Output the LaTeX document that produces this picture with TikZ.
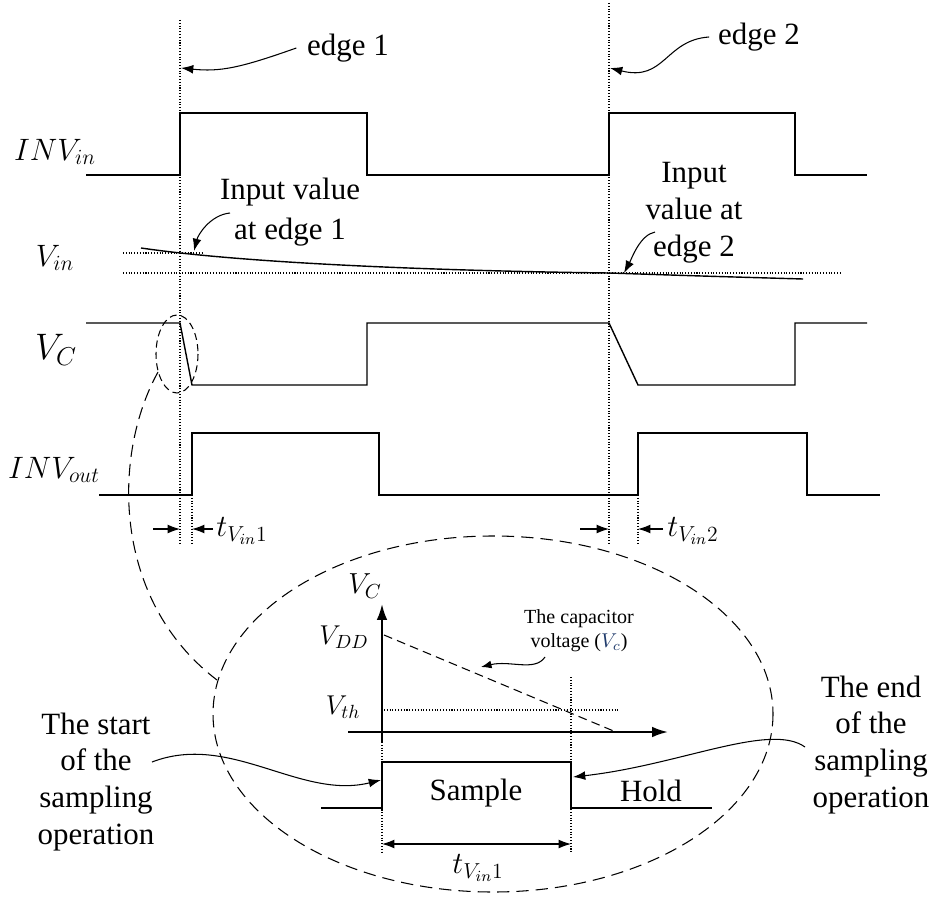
\documentclass[tikz,border=0pt]{standalone}
\usepackage[no-math]{fontspec}
\setmainfont{Liberation Serif}
\usepackage{fix-cm}
\usetikzlibrary{arrows.meta, positioning}
\definecolor{CapBlue}{HTML}{1F3A6B}
\newcommand{\bigtxt}{\fontsize{17.6}{22}\selectfont}
\newcommand{\midtxt}{\fontsize{15.5}{18}\selectfont}
\newcommand{\smalltxt}{\fontsize{11.4}{13.5}\selectfont}
\tikzset{
    sig/.style={line width=0.8pt, line join=miter},
    fatsig/.style={line width=1.4pt},
    marker/.style={densely dotted, line width=0.6pt},
    loop/.style={dashed, dash pattern=on 7pt off 4pt, line width=0.6pt},
    pointer/.style={-{Latex[length=7pt, width=5pt]}, line width=0.6pt},
    axis/.style={-{Latex[length=9pt, width=6pt]}, line width=1.2pt},
    lbl/.style={font=\bigtxt, align=center, inner sep=0pt},
    mlbl/.style={font=\bigtxt, inner sep=0pt},
}

\begin{document}
\begin{tikzpicture}[x=0.02cm, y=-0.02cm]
    \useasboundingbox (0,0) rectangle (932,898);

    % Signal names
    \node[mlbl] (nInvIn)  at (55,152) {$INV_{in}$};
    \node[mlbl] (nVin)    at (55,258) {$V_{in}$};
    \node[mlbl, font=\fontsize{21}{24}\selectfont] (nVc) at (56,350) {$V_C$};
    \node[mlbl] (nInvOut) at (54,470) {$INV_{out}$};

    % Edge markers
    \draw[marker] (180,20) -- (180,545);
    \draw[marker] (609,3) -- (609,545);
    \draw[marker] (192,495) -- (192,545);
    \draw[marker] (638,495) -- (638,545);

    % INV_in
    \draw[sig] (86,175) -- (180,175) -- (180,113) -- (367,113) -- (367,175)
        -- (609,175) -- (609,113) -- (795,113) -- (795,175) -- (867,175);

    % V_in, slowly falling
    \draw[marker] (123,253) -- (203,253);
    \draw[marker] (123,273) -- (842,273);
    \draw[sig] (141,248) .. controls (250,264) and (450,271) .. (609,273)
        .. controls (700,276) .. (803,279);

    % V_C
    \draw[sig] (86,323) -- (180,323) -- (192,385) -- (367,385) -- (367,323)
        -- (609,323) -- (638,385) -- (795,385) -- (795,323) -- (867,323);

    % INV_out
    \draw[sig] (99,495) -- (192,495) -- (192,433) -- (379,433) -- (379,495)
        -- (638,495) -- (638,433) -- (807,433) -- (807,495) -- (880,495);

    % Sampling delays
    \draw[pointer] (153,529) -- (180,529);
    \draw[pointer] (213,529) -- (192,529);
    \node[mlbl, anchor=west] (nT1) at (216,531) {$t_{V_{in}1}$};
    \draw[pointer] (580,529) -- (609,529);
    \draw[pointer] (663,529) -- (638,529);
    \node[mlbl, anchor=west] (nT2) at (667,531) {$t_{V_{in}2}$};

    % Edge labels
    \node[lbl] (nEdge1) at (348,48) {edge 1};
    \coordinate (pEdge1) at (181,68);
    \draw[pointer] ([xshift=-6pt]nEdge1.west) .. controls (240,68) and (220,72) .. (pEdge1);
    \node[lbl] (nEdge2) at (759,37) {edge 2};
    \coordinate (pEdge2) at (610,68);
    \draw[pointer] ([xshift=-5pt]nEdge2.west) .. controls (665,40) and (665,82) .. (pEdge2);

    \node[lbl, font=\fontsize{17.6}{22.5}\selectfont] (nIn1) at (290,212) {Input value\\at edge 1};
    \coordinate (pIn1) at (194,251);
    \draw[pointer] (230,213) .. controls (210,215) and (198,235) .. (pIn1);
    \node[lbl, font=\fontsize{17.6}{21}\selectfont] (nIn2) at (694,213) {Input\\value at\\edge 2};
    \coordinate (pIn2) at (624,273);
    \draw[pointer] (655,232) .. controls (640,235) and (632,258) .. (pIn2);

    % Zoomed view of the first edge
    \draw[loop, dash pattern=on 4pt off 2.5pt] (177,354) ellipse [x radius=21, y radius=39];
    \draw[loop] (493,714) ellipse [x radius=280, y radius=178];
    \draw[loop] (158,372) .. controls (112,455) and (112,600) .. (217,680);

    % Inside: capacitor voltage against time
    \draw[axis] (382,742) -- (382,604);
    \draw[axis] (348,732) -- (668,732);
    \node[mlbl, font=\fontsize{16.5}{19}\selectfont] (nVcAx) at (365,586) {$V_C$};
    \node[mlbl, font=\midtxt] (nVdd)  at (344,637) {$V_{DD}$};
    \node[mlbl, font=\midtxt] (nVth)  at (343,707) {$V_{th}$};
    \draw[dashed, dash pattern=on 5pt off 3pt, line width=0.6pt] (384,635) -- (616,732);
    \draw[marker] (384,710) -- (618,710);
    \draw[marker] (571,677) -- (571,853);
    \draw[marker] (382,742) -- (382,853);

    \node[lbl, font=\smalltxt] (nCap) at (579,631)
        {The capacitor\\voltage ({\color{CapBlue}$V_c$})};
    \coordinate (pCap) at (481,667);
    \draw[pointer, -{Latex[length=6pt, width=4.5pt]}] (545,657) .. controls (535,672) and (510,660) .. (pCap);

    % Sample / hold pulse
    \draw[fatsig] (321,808) -- (382,808) -- (382,762) -- (571,762) -- (571,808) -- (712,808);
    \node[lbl] (nSample) at (476,793) {Sample};
    \node[lbl] (nHold)   at (651,791) {Hold};
    \draw[{Latex[length=7pt, width=5pt]}-{Latex[length=7pt, width=5pt]}, line width=0.6pt]
        (382,844) -- (571,844);
    \node[mlbl] (nT1b) at (478,868) {$t_{V_{in}1}$};

    % Start and end of sampling
    \node[lbl, font=\fontsize{17.6}{21}\selectfont] (nStart) at (96,782)
        {The start\\of the\\sampling\\operation};
    \coordinate (pStart) at (381,780);
    \draw[pointer] (152,762) .. controls (230,732) and (300,800) .. (pStart);
    \node[lbl, font=\fontsize{17.6}{21}\selectfont] (nEnd) at (871,745)
        {The end\\of the\\sampling\\operation};
    \coordinate (pEnd) at (573,777);
    \draw[pointer] (805,747) .. controls (770,722) and (680,765) .. (pEnd);
\end{tikzpicture}
\end{document}
